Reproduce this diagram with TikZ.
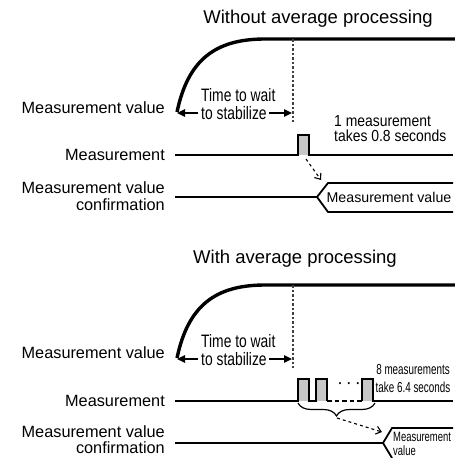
\documentclass[tikz,border=0pt]{standalone}
\usepackage{fontspec}
\setmainfont{Liberation Sans}
\newfontfamily\nwait{Liberation Sans}[FakeStretch=0.77]
\newfontfamily\nmeas{Liberation Sans}[FakeStretch=0.87]
\newfontfamily\nsmall{Liberation Sans}[FakeStretch=0.68]
\newfontfamily\nval{Liberation Sans}[FakeStretch=0.7]
\usetikzlibrary{arrows.meta,decorations.pathreplacing}
\begin{document}
\begin{tikzpicture}[x=1pt,y=-1pt,
  lbl/.style={anchor=east, align=right, inner sep=0pt, font=\fontsize{16.3}{16.5}\selectfont},
  ttl/.style={inner sep=0pt, font=\fontsize{18.5}{20}\selectfont},
  waittxt/.style={anchor=west, align=left, inner sep=0pt, font=\nwait\fontsize{18}{18}\selectfont},
  meastxt/.style={anchor=west, align=left, inner sep=0pt, font=\nmeas\fontsize{16}{15}\selectfont},
  smalltxt/.style={align=center, inner sep=0pt, font=\nsmall\fontsize{14.5}{18}\selectfont},
  valtxt/.style={anchor=west, align=left, inner sep=0pt, font=\nval\fontsize{13.5}{14}\selectfont},
  hextxt/.style={inner sep=0pt, font=\fontsize{14.2}{15}\selectfont},
  curve/.style={line width=3.4pt},
  tline/.style={line width=1.8pt},
  guide/.style={line width=1.1pt, black!75, dash pattern=on 2.5pt off 2pt},
  waitarrow/.style={line width=1.4pt, -{Triangle[length=8pt,width=7.5pt]}},
  flow/.style={line width=1.1pt, dashed, -{Straight Barb[length=5pt,width=8pt]}},
  pulse/.style={fill=black!22},
]
\useasboundingbox (0,0) rectangle (455,458);

% ===== Top panel =====
\node[ttl] (t1) at (318,19) {Without average processing};
\coordinate (c1s) at (177,112);
\coordinate (c1t) at (265,39);
\coordinate (c1e) at (455,39);
\draw[curve] (c1s) .. controls (188,60) and (215,39) .. (c1t) -- (c1e);
\coordinate (g1t) at (293,39);
\coordinate (g1b) at (293,122);
\draw[guide] (g1t) -- (g1b);
\node[waittxt] (w1) at (201,104) {Time to wait\\to stabilize};
\coordinate (w1l) at (198,113);
\coordinate (w1lt) at (177,113);
\coordinate (w1r) at (269,113);
\coordinate (w1rt) at (292,113);
\draw[waitarrow] (w1l) -- (w1lt);
\draw[waitarrow] (w1r) -- (w1rt);

\node[lbl] (l1a) at (165,108) {Measurement value};
\node[lbl] (l1b) at (165,155) {Measurement};
\node[lbl] (l1c) at (165,196) {Measurement value\\confirmation};

\coordinate (m1s) at (175,155);
\coordinate (m1e) at (453,155);
\fill[pulse] (298,135) rectangle (309,155);
\draw[tline] (m1s) -- (298,155) -- (298,135) -- (309,135) -- (309,155) -- (m1e);
\node[meastxt] (n1) at (334,129) {1 measurement\\takes 0.8 seconds};

\coordinate (a1s) at (306,159);
\coordinate (a1e) at (321,180);
\draw[flow] (a1s) -- (a1e);

\coordinate (h1s) at (175,197);
\coordinate (h1p) at (317,197);
\draw[tline] (h1s) -- (h1p) -- (328,183) -- (453,183);
\draw[tline] (h1p) -- (328,212) -- (453,212);
\node[hextxt] (v1) at (389,197.5) {Measurement value};

% ===== Bottom panel =====
\node[ttl] (t2) at (295,259) {With average processing};
\coordinate (c2s) at (177,358);
\coordinate (c2t) at (265,285);
\coordinate (c2e) at (455,285);
\draw[curve] (c2s) .. controls (188,306) and (215,285) .. (c2t) -- (c2e);
\coordinate (g2t) at (293,285);
\coordinate (g2b) at (293,368);
\draw[guide] (g2t) -- (g2b);
\node[waittxt] (w2) at (201,350) {Time to wait\\to stabilize};
\coordinate (w2l) at (198,359);
\coordinate (w2lt) at (177,359);
\coordinate (w2r) at (269,359);
\coordinate (w2rt) at (292,359);
\draw[waitarrow] (w2l) -- (w2lt);
\draw[waitarrow] (w2r) -- (w2rt);

\node[lbl] (l2a) at (165,353) {Measurement value};
\node[lbl] (l2b) at (165,401) {Measurement};
\node[lbl] (l2c) at (165,439.5) {Measurement value\\confirmation};

\coordinate (m2s) at (175,401);
\coordinate (m2d) at (327,401);
\coordinate (m2f) at (362,401);
\coordinate (m2e) at (453,401);
\fill[pulse] (298,379) rectangle (309,401);
\fill[pulse] (316,379) rectangle (327,401);
\fill[pulse] (362,379) rectangle (373,401);
\draw[tline] (m2s) -- (298,401) -- (298,379) -- (309,379) -- (309,401) -- (316,401)
  -- (316,379) -- (327,379) -- (m2d);
\draw[tline, dash pattern=on 4.5pt off 3pt] (m2d) -- (m2f);
\draw[tline] (m2f) -- (362,379) -- (373,379) -- (373,401) -- (m2e);
\node[inner sep=0pt, font=\fontsize{18}{18}\selectfont] (dots) at (349,386) {·\,·\,·};
\node[smalltxt] (n2) at (413,379) {8 measurements\\take 6.4 seconds};

\coordinate (br1) at (298,403);
\coordinate (br2) at (375,403);
\draw[line width=1.2pt, decorate, decoration={brace, mirror, amplitude=13pt}] (br1) -- (br2);
\coordinate (bt) at (337,418);
\coordinate (a2e) at (382,432);
\draw[flow] (bt) -- (a2e);

\coordinate (h2s) at (175,443);
\coordinate (h2p) at (383,443);
\draw[tline] (h2s) -- (h2p) -- (392,428) -- (453,428);
\draw[tline] (h2p) -- (392,458);
\node[valtxt] (v2) at (393,443.5) {Measurement\\value};
\end{tikzpicture}
\end{document}
